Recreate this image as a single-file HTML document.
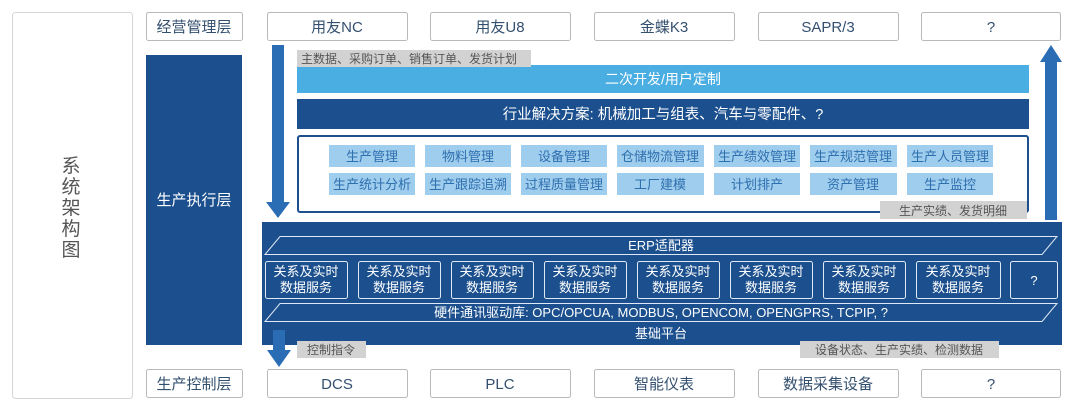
<!DOCTYPE html>
<html><head><meta charset="utf-8"><style>
html,body{margin:0;padding:0;background:#fff;}
svg{display:block;}
text{font-family:"Liberation Sans","Noto Sans CJK SC",sans-serif;}
</style></head><body>
<svg width="1080" height="412" viewBox="0 0 1080 412" xmlns="http://www.w3.org/2000/svg">
<rect x="12.5" y="12.5" width="120" height="386" rx="3" fill="#fff" stroke="#d6d6d6"/>
<g font-size="19" fill="#555" text-anchor="middle">
<text x="71" y="172">系</text><text x="71" y="193">统</text><text x="71" y="214">架</text><text x="71" y="235">构</text><text x="71" y="256">图</text>
</g>
<g fill="#fff" stroke="#b9b9b9">
<rect x="146.5" y="12.5" width="96" height="28" rx="2"/>
<rect x="267.5" y="12.5" width="140" height="28" rx="2"/>
<rect x="430.5" y="12.5" width="140" height="28" rx="2"/>
<rect x="594.5" y="12.5" width="140" height="28" rx="2"/>
<rect x="758.5" y="12.5" width="140" height="28" rx="2"/>
<rect x="921.5" y="12.5" width="139" height="28" rx="2"/>
<rect x="146.5" y="369.5" width="96" height="28" rx="2"/>
<rect x="267.5" y="369.5" width="140" height="28" rx="2"/>
<rect x="430.5" y="369.5" width="140" height="28" rx="2"/>
<rect x="594.5" y="369.5" width="140" height="28" rx="2"/>
<rect x="758.5" y="369.5" width="140" height="28" rx="2"/>
<rect x="921.5" y="369.5" width="139" height="28" rx="2"/>
</g>
<g font-size="15" fill="#34506f" text-anchor="middle">
<text x="194" y="32">经营管理层</text><text x="337" y="32">用友NC</text><text x="500" y="32">用友U8</text><text x="664" y="32">金蝶K3</text><text x="828" y="32">SAPR/3</text><text x="991" y="32">?</text>
<text x="194" y="389">生产控制层</text><text x="337" y="389">DCS</text><text x="500" y="389">PLC</text><text x="664" y="389">智能仪表</text><text x="828" y="389">数据采集设备</text><text x="991" y="389">?</text>
</g>
<rect x="146" y="55" width="96" height="290" fill="#1b4f8d"/>
<text x="194" y="205" font-size="15" fill="#fff" text-anchor="middle">生产执行层</text>
<rect x="272" y="45" width="12" height="158" fill="#2a6db5"/>
<polygon points="266,202 290,202 278,218" fill="#2a6db5"/>
<rect x="1045" y="60" width="12" height="160" fill="#2a6db5"/>
<polygon points="1040,62 1062,62 1051,45" fill="#2a6db5"/>
<rect x="297" y="65" width="732" height="28" fill="#4aaee3"/>
<text x="663" y="84" font-size="14" fill="#fff" text-anchor="middle">二次开发/用户定制</text>
<rect x="297" y="50" width="234" height="17" fill="#d2d2d2"/>
<text x="301" y="63" font-size="12" fill="#555">主数据、采购订单、销售订单、发货计划</text>
<rect x="297" y="99" width="732" height="30" fill="#1b4f8d"/>
<text x="663" y="119" font-size="14.5" fill="#fff" text-anchor="middle">行业解决方案: 机械加工与组表、汽车与零配件、?</text>
<rect x="298" y="136" width="730" height="76" fill="#fff" stroke="#1b4f8d" stroke-width="2" rx="2"/>
<g fill="#9fcdee">
<rect x="329" y="145" width="86" height="22"/><rect x="425" y="145" width="86" height="22"/><rect x="521" y="145" width="86" height="22"/><rect x="617" y="145" width="87" height="22"/><rect x="714" y="145" width="86" height="22"/><rect x="810" y="145" width="87" height="22"/><rect x="907" y="145" width="86" height="22"/>
<rect x="329" y="173" width="86" height="22"/><rect x="425" y="173" width="86" height="22"/><rect x="521" y="173" width="86" height="22"/><rect x="617" y="173" width="87" height="22"/><rect x="714" y="173" width="86" height="22"/><rect x="810" y="173" width="87" height="22"/><rect x="907" y="173" width="86" height="22"/>
</g>
<g font-size="13" fill="#2e6fae" text-anchor="middle">
<text x="372" y="161">生产管理</text><text x="468" y="161">物料管理</text><text x="564" y="161">设备管理</text><text x="660" y="161">仓储物流管理</text><text x="757" y="161">生产绩效管理</text><text x="853" y="161">生产规范管理</text><text x="950" y="161">生产人员管理</text>
<text x="372" y="189">生产统计分析</text><text x="468" y="189">生产跟踪追溯</text><text x="564" y="189">过程质量管理</text><text x="660" y="189">工厂建模</text><text x="757" y="189">计划排产</text><text x="853" y="189">资产管理</text><text x="950" y="189">生产监控</text>
</g>
<rect x="880" y="201" width="147" height="18" fill="#d2d2d2"/>
<text x="953" y="215" font-size="12" fill="#555" text-anchor="middle">生产实绩、发货明细</text>
<rect x="262" y="222" width="800" height="123" fill="#1b4f8d"/>
<g fill="none" stroke="#dfe9f5" stroke-width="1">
<polygon points="280,236.5 1057,236.5 1042,254.5 265,254.5"/>
<polygon points="280,303.5 1057,303.5 1042,321.5 265,321.5"/>
<rect x="265.5" y="261.5" width="82" height="37" rx="2"/><rect x="358.5" y="261.5" width="82" height="37" rx="2"/><rect x="451.5" y="261.5" width="82" height="37" rx="2"/><rect x="544.5" y="261.5" width="82" height="37" rx="2"/><rect x="637.5" y="261.5" width="82" height="37" rx="2"/><rect x="730.5" y="261.5" width="82" height="37" rx="2"/><rect x="823.5" y="261.5" width="82" height="37" rx="2"/><rect x="916.5" y="261.5" width="84" height="37" rx="2"/><rect x="1010.5" y="261.5" width="47" height="37" rx="2"/>
</g>
<g font-size="13" fill="#fff" text-anchor="middle">
<text x="661" y="250">ERP适配器</text>
<text x="306" y="276">关系及实时</text><text x="306" y="292">数据服务</text>
<text x="399" y="276">关系及实时</text><text x="399" y="292">数据服务</text>
<text x="492" y="276">关系及实时</text><text x="492" y="292">数据服务</text>
<text x="585" y="276">关系及实时</text><text x="585" y="292">数据服务</text>
<text x="678" y="276">关系及实时</text><text x="678" y="292">数据服务</text>
<text x="771" y="276">关系及实时</text><text x="771" y="292">数据服务</text>
<text x="864" y="276">关系及实时</text><text x="864" y="292">数据服务</text>
<text x="958" y="276">关系及实时</text><text x="958" y="292">数据服务</text>
<text x="1034" y="285">?</text>
<text x="661" y="317">硬件通讯驱动库: OPC/OPCUA, MODBUS, OPENCOM, OPENGPRS, TCPIP, ?</text>
<text x="661" y="338">基础平台</text>
</g>
<rect x="273" y="330" width="12" height="22" fill="#2a6db5"/>
<polygon points="267,350 291,350 279,367" fill="#2a6db5"/>
<rect x="297" y="341" width="69" height="17" fill="#d2d2d2"/>
<text x="331" y="354" font-size="12" fill="#555" text-anchor="middle">控制指令</text>
<rect x="800" y="341" width="199" height="17" fill="#d2d2d2"/>
<text x="899" y="354" font-size="12" fill="#555" text-anchor="middle">设备状态、生产实绩、检测数据</text>
</svg>
</body></html>
